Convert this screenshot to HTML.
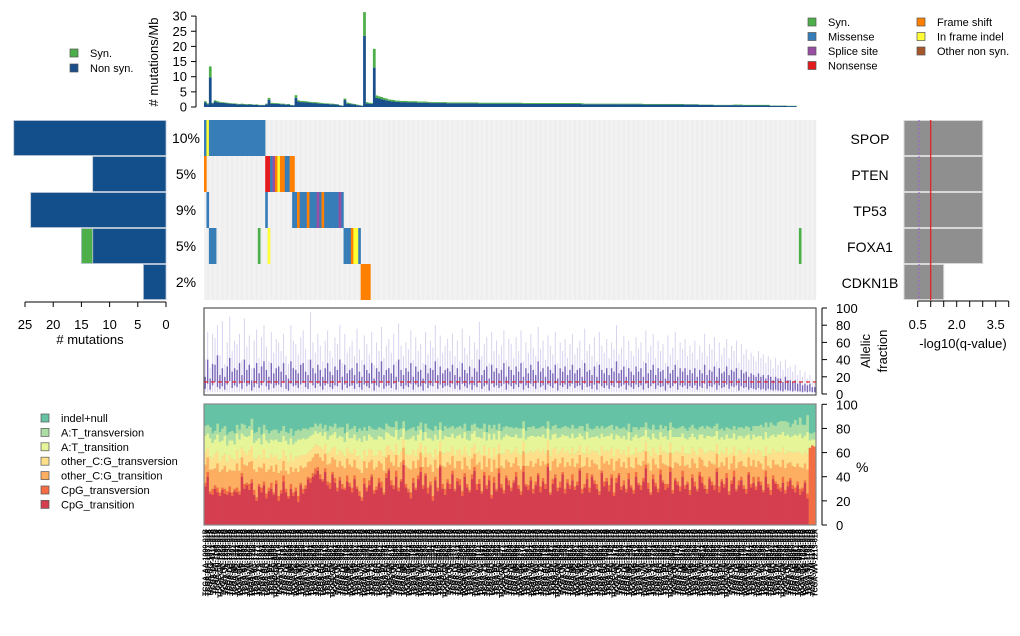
<!DOCTYPE html>
<html><head><meta charset="utf-8"><style>
html,body{margin:0;padding:0;background:#fff}
svg{display:block;font-family:"Liberation Sans",sans-serif}
</style></head><body>
<svg id="chart" width="1020" height="636" viewBox="0 0 1020 636" xmlns="http://www.w3.org/2000/svg">
<g id="top"></g><g id="grid"></g><g id="left"></g><g id="right"></g><g id="af"></g><g id="spec"></g><g id="labels"></g><g id="legends"></g>
</svg>
<script>
const genes=["SPOP","PTEN","TP53","FOXA1","CDKN1B"];
const genePct=["10%","5%","9%","5%","2%"];
const geneNonSyn=[27,13,24,13,4];
const geneSyn=[0,0,0,2,0];
const geneQ=[3.0,3.0,3.0,3.0,1.5];
const qThreshold=1.0;
const qPurple=0.55;
// [row, startCol, endCol, type]
const oncoEvents=[[0,0,0,'M'],[0,1,1,'I'],[0,2,24,'M'],
[1,0,0,'F'],[1,25,26,'N'],[1,27,27,'M'],[1,28,28,'S'],[1,29,29,'F'],[1,30,30,'I'],[1,31,32,'F'],[1,33,34,'M'],[1,35,36,'F'],
[2,1,1,'M'],[2,25,25,'M'],[2,36,56,'M'],[2,38,38,'F'],[2,42,42,'F'],[2,46,46,'S'],[2,48,48,'F'],[2,55,55,'S'],
[3,2,4,'M'],[3,22,22,'Y'],[3,26,26,'I'],[3,57,59,'M'],[3,60,60,'F'],[3,61,62,'I'],[3,63,63,'M'],[3,243,243,'Y'],
[4,64,67,'F']];
const tmbNon=[1.5,0.9,9.8,1.2,1.8,1.6,1.4,1.4,1.3,1.2,1.1,1.1,1.0,0.9,0.9,0.9,0.8,0.8,0.8,0.8,0.7,0.7,0.6,0.6,0.6,
0.9,2.4,1.1,1.1,1.0,1.0,0.9,0.9,0.8,0.8,0.6,0.5,3.0,1.8,1.6,1.6,1.5,1.5,1.4,1.3,1.3,1.2,1.1,1.1,1.0,
1.0,0.9,0.9,0.8,0.8,0.5,0.4,2.3,1.1,1.0,0.9,0.8,0.6,0.5,0.4,23.5,1.2,1.1,1.0,13.0,3.0,2.8,2.6,2.4,2.2,
2.0,1.9,1.8,1.7,1.7,1.6,1.6,1.6,1.5,1.5,1.5,1.5,1.4,1.4,1.4,1.4,1.4,1.3,1.3,1.3,1.3,1.3,1.3,1.3,1.2,
1.2,1.2,1.2,1.2,1.2,1.2,1.2,1.2,1.2,1.2,1.2,1.2,1.1,1.1,1.1,1.1,1.1,1.1,1.1,1.1,1.1,1.1,1.1,1.1,1.1,
1.1,1.1,1.1,1.1,1.1,1.0,1.0,1.0,1.0,1.0,1.0,1.0,1.0,1.0,1.0,1.0,1.0,1.0,1.0,1.0,1.0,1.0,1.0,1.0,1.0,
1.0,1.0,1.0,1.0,0.9,0.9,0.9,0.9,0.9,0.9,0.9,0.9,0.9,0.9,0.9,0.9,0.9,0.9,0.9,0.9,0.9,0.9,0.9,0.9,0.9,
0.9,0.9,0.9,0.9,0.8,0.8,0.8,0.8,0.8,0.8,0.8,0.8,0.8,0.8,0.8,0.8,0.8,0.8,0.8,0.8,0.8,0.8,0.8,0.8,0.8,
0.8,0.8,0.7,0.7,0.7,0.7,0.7,0.7,0.6,0.6,0.6,0.6,0.6,0.6,0.6,0.6,0.6,0.6,0.6,0.6,0.5,0.5,0.5,0.5,0.5,
0.5,0.5,0.5,0.5,0.5,0.5,0.4,0.4,0.4,0.4,0.4,0.4,0.4,0.3,0.3,0.3,0.3,0,0,0,0,0,0,0,0];
const tmbSyn=[0.4,0.3,3.6,0.2,0.4,0.3,0.3,0.2,0.2,0.2,0.2,0.1,0.2,0.2,0.1,0.2,0.2,0.1,0.2,0.1,0.1,0.2,0.1,0.1,0.1,
0.2,0.6,0.3,0.2,0.3,0.2,0.2,0.2,0.1,0.2,0.1,0.1,0.9,0.4,0.4,0.4,0.4,0.3,0.3,0.3,0.3,0.3,0.3,0.2,0.2,
0.2,0.2,0.2,0.2,0.1,0.1,0.1,0.5,0.4,0.3,0.2,0.2,0.2,0.1,0.1,7.8,0.4,0.3,0.3,6.2,0.8,0.7,0.7,0.6,0.6,
0.5,0.5,0.5,0.4,0.4,0.4,0.4,0.4,0.4,0.4,0.4,0.4,0.4,0.4,0.4,0.4,0.3,0.3,0.3,0.3,0.3,0.3,0.3,0.3,0.3,
0.3,0.3,0.3,0.3,0.3,0.3,0.3,0.3,0.3,0.3,0.3,0.3,0.3,0.3,0.3,0.3,0.3,0.3,0.3,0.3,0.3,0.3,0.3,0.3,0.3,
0.3,0.3,0.3,0.3,0.3,0.3,0.3,0.3,0.3,0.3,0.3,0.3,0.3,0.3,0.3,0.3,0.3,0.3,0.3,0.3,0.3,0.3,0.3,0.3,0.3,
0.3,0.3,0.3,0.3,0.3,0.2,0.2,0.2,0.2,0.2,0.2,0.2,0.2,0.2,0.2,0.2,0.2,0.2,0.2,0.2,0.2,0.2,0.2,0.2,0.2,
0.2,0.2,0.2,0.2,0.2,0.2,0.2,0.2,0.2,0.2,0.2,0.2,0.2,0.2,0.2,0.2,0.2,0.2,0.2,0.2,0.2,0.1,0.1,0.1,0.1,
0.1,0.1,0.1,0.1,0.1,0.1,0.1,0.1,0.1,0.1,0.1,0.1,0.1,0.1,0.1,0.1,0.2,0.2,0.2,0.2,0.2,0.2,0.2,0.2,0.2,
0.2,0.2,0.2,0.2,0.2,0.2,0.1,0.1,0.1,0.1,0.1,0.1,0.1,0.1,0.1,0.1,0.1,0,0,0,0,0,0,0,0];
const afMax=[40,72,30,70,65,80,45,85,35,60,90,50,62,58,70,40,88,55,68,30,62,75,42,66,80,
55,38,72,48,64,60,50,70,44,35,80,62,58,46,66,74,52,40,95,60,48,70,56,38,62,
74,50,42,66,58,80,36,70,48,55,62,44,76,52,40,68,58,46,72,34,60,50,78,42,56,
64,48,70,38,82,56,44,60,52,74,40,66,50,58,36,72,46,62,54,80,42,68,48,56,64,
50,70,44,62,38,76,54,46,68,40,60,52,84,44,58,66,36,72,50,62,46,56,74,40,64,
58,42,66,50,74,38,60,48,70,54,44,78,52,62,40,68,56,46,72,36,60,50,64,42,58,
70,46,54,62,40,76,50,58,44,66,38,72,56,48,64,42,60,52,80,46,54,68,40,62,50,
44,66,52,60,38,74,48,56,70,42,62,50,58,36,68,46,54,72,40,60,52,64,44,56,48,
62,40,56,48,70,44,58,52,66,38,60,46,54,64,42,56,50,62,36,58,46,52,40,48,44,
38,50,42,46,36,44,40,30,42,34,38,28,40,30,32,26,34,22,28,20,26,18,22,16,14];
const afHi=[20,40,18,35,34,45,22,30,20,32,42,26,30,28,36,22,40,28,34,16,30,36,24,32,38,
28,20,36,24,30,32,26,36,22,18,38,30,28,24,34,36,26,22,40,30,24,34,28,20,30,
36,26,22,32,28,40,20,34,24,28,30,22,36,26,20,34,28,24,36,18,30,26,38,22,28,
30,24,34,20,40,28,22,30,26,36,20,32,26,28,18,34,24,30,28,38,22,32,24,28,30,
26,34,22,30,20,36,28,24,32,20,30,26,40,22,28,32,18,34,26,30,24,28,36,20,32,
28,22,32,26,36,20,30,24,34,28,22,38,26,30,20,32,28,24,34,18,30,26,32,22,28,
34,24,28,30,20,36,26,28,22,32,20,34,28,24,30,22,30,26,38,24,28,32,20,30,26,
22,32,26,30,20,36,24,28,34,22,30,26,28,18,32,24,28,34,20,30,26,30,22,28,24,
30,20,28,24,34,22,28,26,32,20,30,24,26,32,22,28,26,30,18,28,24,26,20,24,22,
20,24,20,22,18,22,20,16,20,18,18,14,20,16,16,14,16,12,14,10,12,10,12,8,8];
const afLo=[6,12,5,10,14,8,6,9,5,11,15,7,10,8,12,6,13,9,11,4,8,12,7,10,14,
9,5,12,7,10,11,8,13,6,4,12,9,10,7,11,13,8,6,14,10,7,12,9,5,10,
12,8,6,10,9,14,5,11,7,9,10,6,12,8,5,11,9,7,12,4,10,8,13,6,9,
10,7,12,5,14,9,6,10,8,12,5,11,8,9,4,12,7,10,9,13,6,11,7,9,10,
8,12,6,10,5,12,9,7,11,5,10,8,14,6,9,11,4,12,8,10,7,9,12,5,11,
9,6,11,8,12,5,10,7,12,9,6,13,8,10,5,11,9,7,12,4,10,8,11,6,9,
12,7,9,10,5,12,8,9,6,11,5,12,9,7,10,6,10,8,13,7,9,11,5,10,8,
6,11,8,10,5,12,7,9,12,6,10,8,9,4,11,7,9,12,5,10,8,10,6,9,7,
10,5,9,7,12,6,9,8,11,5,10,7,8,11,6,9,8,10,4,9,7,8,5,7,6,
5,7,5,6,4,6,5,4,5,4,4,3,5,4,4,3,4,3,3,2,3,2,3,2,2];
const cpgTi=[32,40,26,25,30,27,24,29,26,25,27,24,28,27,25,40,30,33,29,35,25,20,32,27,33,
22,28,30,25,34,20,26,36,27,22,30,24,28,19,33,26,30,38,35,40,42,45,38,36,44,
33,30,42,35,28,37,30,29,36,32,27,38,30,24,20,34,28,33,40,26,29,35,31,25,39,
45,33,30,40,28,36,50,31,27,22,35,29,38,44,30,41,26,33,20,37,28,48,30,25,35,
30,42,28,36,33,24,40,31,27,38,45,29,34,26,41,30,37,22,35,28,43,31,26,39,33,
28,35,40,30,25,44,32,29,37,26,33,41,27,36,30,48,25,34,39,28,31,42,26,35,30,
37,29,33,45,26,31,38,27,40,34,30,25,43,32,36,28,39,24,35,41,29,33,27,38,31,
26,40,33,29,36,47,30,25,38,32,27,42,35,29,31,44,26,37,33,28,40,30,34,25,39,
32,28,41,35,30,26,38,33,29,44,27,36,31,39,25,34,40,28,33,37,30,26,42,31,35,
29,36,33,27,40,31,25,38,34,30,28,35,26,32,37,30,27,33,25,28,35,22,0,0,0];
const cpgTv=[3,4,2,5,3,4,3,2,4,3,5,3,2,4,3,3,4,2,5,3,4,3,2,4,3,
4,3,5,2,3,4,3,5,3,2,4,3,3,5,2,4,3,2,4,3,5,3,4,2,3,
3,5,2,4,3,3,4,2,5,3,4,3,2,4,3,5,3,4,2,3,3,4,5,2,4,
2,4,3,5,3,2,4,3,3,5,4,2,3,4,3,2,5,3,4,3,3,2,4,5,3,
4,3,2,3,5,4,3,3,2,4,3,5,4,2,3,3,4,3,5,2,4,3,3,2,4,
3,2,4,3,3,5,2,4,3,4,3,2,5,3,4,3,2,4,3,3,5,2,4,3,3,
5,3,3,2,4,3,5,4,2,3,4,3,2,4,3,5,3,3,4,2,3,4,3,5,2,
3,4,2,4,3,3,5,2,4,3,3,4,2,5,3,4,3,2,3,4,5,3,2,4,3,
4,2,3,5,3,4,2,3,4,3,5,2,3,4,3,3,5,2,4,3,3,4,2,3,5,
3,4,3,2,5,3,4,3,2,4,3,5,3,4,2,3,4,3,5,3,2,4,64,66,65];
const cgTi=[15,12,18,16,14,20,17,15,19,16,14,18,15,20,17,13,16,14,18,15,17,21,14,16,15,
18,15,14,17,13,19,16,12,15,18,14,17,16,20,14,17,15,12,14,13,12,11,14,15,12,
14,16,12,15,17,13,15,16,14,15,17,13,15,18,20,14,16,15,12,17,16,14,15,18,13,
11,15,16,13,17,14,10,15,17,19,14,16,13,12,15,13,17,14,20,14,16,11,15,18,14,
16,12,17,14,15,18,13,15,17,13,11,16,14,18,13,15,14,19,14,17,12,15,18,13,15,
17,14,12,16,18,12,15,16,13,18,15,12,17,14,16,11,18,15,13,17,15,12,18,14,16,
13,16,15,11,18,15,13,17,12,14,16,18,12,15,14,17,13,18,14,12,16,15,17,13,15,
18,12,15,16,14,11,16,18,13,15,17,12,14,16,15,12,18,13,15,17,12,16,14,18,13,
15,17,12,14,16,18,13,15,17,12,16,14,15,13,18,14,12,17,15,13,16,18,12,15,14,
16,13,15,17,12,15,18,13,14,16,17,14,18,15,13,16,17,15,18,16,14,20,0,0,0];
const cgTv=[10,8,11,9,12,10,9,11,10,8,12,10,9,11,10,8,11,9,10,12,9,11,10,8,12,
11,9,10,12,8,11,10,9,12,10,11,9,10,12,9,11,10,8,9,8,8,7,9,10,8,
9,10,8,11,10,9,11,10,9,10,11,9,10,12,11,9,10,11,8,11,10,9,10,12,9,
8,10,11,9,10,9,7,10,11,12,9,10,9,8,10,9,11,10,12,9,11,8,10,12,9,
10,8,11,9,10,12,9,10,11,9,8,10,9,12,9,10,9,12,10,11,8,10,12,9,10,
11,10,8,10,12,8,10,11,9,12,10,8,11,10,9,8,12,10,9,11,10,8,12,10,10,
9,11,10,8,12,10,9,11,8,10,11,12,8,10,9,11,9,12,10,8,11,10,11,9,10,
12,8,10,11,9,8,10,12,9,10,11,8,10,11,10,8,12,9,10,11,8,10,9,12,9,
10,11,8,9,10,12,9,10,11,8,10,9,10,8,12,9,8,11,10,9,10,12,8,10,9,
11,9,10,11,8,10,12,9,10,11,12,10,12,10,9,11,12,10,12,11,10,13,0,0,0];
const atTi=[14,12,15,13,12,14,16,13,15,14,12,15,13,14,16,12,13,15,12,14,13,15,14,12,13,
15,13,12,14,13,15,14,12,13,15,13,14,12,15,13,14,13,12,12,11,11,10,12,11,10,
12,13,11,12,14,12,13,12,13,12,13,12,13,14,15,12,13,12,11,14,13,12,12,14,12,
10,12,13,12,13,12,9,12,13,14,12,13,12,11,12,12,13,12,14,12,13,10,12,14,12,
13,11,14,12,12,14,12,12,13,12,11,13,12,14,11,12,12,15,12,13,11,12,14,12,12,
14,12,11,13,14,11,12,13,12,14,12,11,13,12,13,10,14,12,12,13,12,11,14,12,13,
12,13,12,10,14,12,12,13,11,12,13,14,11,12,12,13,12,14,12,11,13,12,13,12,12,
14,11,12,13,12,10,12,14,12,12,13,11,12,13,12,11,14,12,12,13,11,13,12,14,12,
12,13,11,12,13,14,12,12,13,11,13,12,12,11,14,12,11,13,12,12,13,14,11,12,12,
14,12,13,14,12,13,15,12,13,14,15,13,15,14,12,14,15,13,16,14,13,18,6,5,6];
const atTv=[8,7,9,8,7,9,8,10,8,9,7,8,9,7,8,8,9,7,8,9,8,7,9,8,7,
9,8,7,9,8,7,9,8,7,9,8,7,9,8,7,8,9,7,7,6,6,6,7,6,6,
7,8,6,7,8,7,8,7,7,7,8,7,7,8,9,7,8,7,7,8,8,7,7,8,7,
6,7,8,7,8,7,6,7,8,8,7,8,7,6,7,7,8,7,8,7,8,6,7,8,7,
8,6,8,7,7,8,7,7,8,7,6,8,7,8,7,7,7,9,7,8,6,7,8,7,7,
8,7,6,8,8,6,7,8,7,8,7,6,8,7,8,6,8,7,7,8,7,6,8,7,8,
7,8,7,6,8,7,7,8,6,7,8,8,6,7,7,8,7,8,7,6,8,7,8,7,7,
8,6,7,8,7,6,7,8,7,7,8,6,7,8,7,6,8,7,7,8,6,8,7,8,7,
7,8,6,7,8,8,7,7,8,6,8,7,7,6,8,7,6,8,7,7,8,8,6,7,7,
9,8,9,10,8,9,11,8,9,10,11,9,12,10,8,10,12,9,13,11,9,14,6,5,6];

const NS="http://www.w3.org/2000/svg";
const N=250, X0=204, X1=816, CW=(X1-X0)/N;
function el(tag,attrs,parent,text){const e=document.createElementNS(NS,tag);for(const k in attrs)e.setAttribute(k,attrs[k]);if(text!==undefined)e.textContent=text;parent.appendChild(e);return e;}
const xCol=i=>X0+i*CW;
const typeColor={M:"#377eb8",Y:"#4daf4a",S:"#984ea3",N:"#e41a1c",F:"#ff7f00",I:"#ffff33",O:"#a65628"};

// top TMB chart
const gTop=document.getElementById('top');
const yT=v=>107-v*3.03;
el('line',{x1:196,x2:196,y1:yT(0),y2:yT(30),stroke:"#000"},gTop);
[0,5,10,15,20,25,30].forEach(t=>{el('line',{x1:191,x2:196,y1:yT(t),y2:yT(t),stroke:"#000"},gTop);
 const tx=el('text',{x:187,y:yT(t)+4.5,"text-anchor":"end","font-size":13},gTop,String(t));
 });
const yl=el('text',{x:0,y:0,transform:"translate(158,62) rotate(-90)","text-anchor":"middle","font-size":13},gTop,"# mutations/Mb");

for(let i=0;i<N;i++){
 const a=tmbNon[i]||0,b=tmbSyn[i]||0;
 if(a>0){const r=el('rect',{x:xCol(i),y:yT(a),width:CW+0.3,height:yT(0)-yT(a),fill:"#1a4f8c"},gTop);
  }
 if(b>0){const r=el('rect',{x:xCol(i),y:yT(a+b),width:CW+0.3,height:yT(a)-yT(a+b),fill:"#4daf4a"},gTop);
  }
}

// oncoprint grid
const gG=document.getElementById('grid');
const RT=120,RH=36;
for(let r=0;r<5;r++)for(let i=0;i<N;i++){
 el('rect',{x:xCol(i),y:RT+r*RH,width:CW+0.2,height:RH,fill:(i%2?"#eeeeee":"#f2f2f2")},gG);
}
oncoEvents.forEach(ev=>{const [r,s,e,t]=ev;
 const rc=el('rect',{x:xCol(s),y:RT+r*RH,width:(e-s+1)*CW+0.2,height:RH,fill:typeColor[t]},gG);
 });
genes.forEach((g,r)=>{
 const p=el('text',{x:186,y:RT+r*RH+23,"text-anchor":"middle","font-size":14},gG,genePct[r]);
 
 const n=el('text',{x:870,y:RT+r*RH+24,"text-anchor":"middle","font-size":14},gG,g);
 
});

// left bar chart
const gL=document.getElementById('left');
const xL=v=>166-v*5.64;
genes.forEach((g,r)=>{
 const y=RT+r*RH+0.5,h=RH-1;
 const b=el('rect',{x:xL(geneNonSyn[r]),y:y,width:166-xL(geneNonSyn[r]),height:h,fill:"#134f8a",stroke:"#b8c4d4","stroke-width":0.8},gL);
 
 if(geneSyn[r]>0){const s=el('rect',{x:xL(geneNonSyn[r]+geneSyn[r]),y:y,width:xL(geneNonSyn[r])-xL(geneNonSyn[r]+geneSyn[r]),height:h,fill:"#4daf4a",stroke:"#b8c4d4","stroke-width":0.8},gL);
  }
});
el('line',{x1:xL(25),x2:xL(0),y1:302,y2:302,stroke:"#000"},gL);
[0,5,10,15,20,25].forEach(t=>{el('line',{x1:xL(t),x2:xL(t),y1:302,y2:307,stroke:"#000"},gL);
 const tx=el('text',{x:xL(t),y:329,"text-anchor":"middle","font-size":13},gL,String(t));
 });
const lt=el('text',{x:90,y:344,"text-anchor":"middle","font-size":13},gL,"# mutations");


// right q-value
const gR=document.getElementById('right');
const xQ=v=>904.7+v*26;
genes.forEach((g,r)=>{
 const b=el('rect',{x:904,y:RT+r*RH+0.5,width:xQ(geneQ[r])-904,height:RH-1,fill:"#8f8f8f",stroke:"#d8d8d8","stroke-width":1},gR);
 });
el('line',{x1:xQ(qPurple),x2:xQ(qPurple),y1:RT,y2:RT+5*RH,stroke:"#9a6bc8","stroke-width":1.2,"stroke-dasharray":"2,2"},gR);
el('line',{x1:xQ(qThreshold),x2:xQ(qThreshold),y1:RT,y2:RT+5*RH,stroke:"#e41a1c","stroke-width":1.2},gR);
el('line',{x1:xQ(0.5),x2:xQ(4.0),y1:301,y2:301,stroke:"#000"},gR);
[0.5,1,1.5,2,2.5,3,3.5,4].forEach(t=>el('line',{x1:xQ(t),x2:xQ(t),y1:301,y2:307,stroke:"#000"},gR));
[0.5,2.0,3.5].forEach(t=>{const tx=el('text',{x:xQ(t),y:329,"text-anchor":"middle","font-size":13},gR,t.toFixed(1));
 });
const qt=el('text',{x:963,y:348,"text-anchor":"middle","font-size":13},gR,"-log10(q-value)");


// allelic fraction
const gA=document.getElementById('af');
const yA=v=>394-v*0.86;
const fr=el('rect',{x:X0,y:308,width:X1-X0,height:87,fill:"#fff",stroke:"#555","stroke-width":1.2},gA);

for(let i=0;i<N;i++){const cx=xCol(i)+CW/2;
 el('line',{x1:cx,x2:cx,y1:yA(2),y2:yA(afMax[i]),stroke:"#d9d3ee","stroke-width":1},gA);
 const m=el('line',{x1:cx,x2:cx,y1:yA(afLo[i]),y2:yA(afHi[i]),stroke:"#7a66b8","stroke-width":1.4},gA);
 }
el('line',{x1:X0,x2:X1,y1:yA(14),y2:yA(14),stroke:"#e41a1c","stroke-width":1.2,"stroke-dasharray":"4,3"},gA);
el('line',{x1:822,x2:822,y1:yA(0),y2:yA(100),stroke:"#000"},gA);
[0,20,40,60,80,100].forEach(t=>{el('line',{x1:822,x2:827,y1:yA(t),y2:yA(t),stroke:"#000"},gA);
 const tx=el('text',{x:836,y:yA(t)+5,"font-size":13},gA,String(t));
 });
const at1=el('text',{x:0,y:0,transform:"translate(870,351) rotate(-90)","text-anchor":"middle","font-size":13},gA,"Allelic");

const at2=el('text',{x:0,y:0,transform:"translate(887,351) rotate(-90)","text-anchor":"middle","font-size":13},gA,"fraction");


// spectrum
const gS=document.getElementById('spec');
const yS=v=>525-v*1.207;
const specCols=["#d53e4f","#f46d43","#fdae61","#fee08b","#e6f598","#abdda4","#66c2a5"];
el('rect',{x:X0,y:404,width:X1-X0,height:121,fill:"#66c2a5"},gS);
const specSeries=[cpgTi,cpgTv,cgTi,cgTv,atTi,atTv];
for(let i=0;i<N;i++){let acc=0;
 specSeries.forEach((s,k)=>{const v=s[i]||0;if(v>0){
  const r=el('rect',{x:xCol(i),y:yS(acc+v),width:CW+0.3,height:yS(acc)-yS(acc+v),fill:specCols[k]},gS);
  }acc+=v;});}
el('rect',{x:X0,y:404,width:X1-X0,height:121,fill:"none",stroke:"#888","stroke-width":1.2},gS);
el('line',{x1:822,x2:822,y1:yS(0),y2:yS(100),stroke:"#000"},gS);
[0,20,40,60,80,100].forEach(t=>{el('line',{x1:822,x2:827,y1:yS(t),y2:yS(t),stroke:"#000"},gS);
 const tx=el('text',{x:836,y:yS(t)+5,"font-size":13},gS,String(t));
 });
const pt=el('text',{x:856,y:472,"font-size":14},gS,"%");


// sample labels
const gLb=document.getElementById('labels');
const codes="ABCDEFGHJKLMNPQRSTVWXYZ";
for(let i=0;i<N;i++){const cx=xCol(i)+CW/2+2.5;
 const nm="TCGA-"+codes[i%23]+codes[(i*7)%23]+"-"+String(1000+(i*37)%9000).slice(0,4)+"-"+(i%4?"01A":"01B");
 const t=el('text',{x:0,y:0,transform:`translate(${cx.toFixed(2)},529) rotate(-90)`,"text-anchor":"end","font-size":7.2,"font-weight":"bold",fill:"#000"},gLb,nm);
 }

// legends
const gLg=document.getElementById('legends');
function leg(x,y,col,txt,name){const r=el('rect',{x:x,y:y-8,width:8,height:8,fill:col,stroke:"#555","stroke-width":0.7},gLg);
 
 const t=el('text',{x:x+20,y:y,"font-size":11},gLg,txt);
 }
leg(70,57,"#4daf4a","Syn.","tmb-syn");
leg(70,72,"#1a4f8c","Non syn.","tmb-nonsyn");
const lg1=[["#4daf4a","Syn."],["#377eb8","Missense"],["#984ea3","Splice site"],["#e41a1c","Nonsense"]];
lg1.forEach((d,k)=>leg(808,26+k*14.5,d[0],d[1],"variant-type"));
const lg2=[["#ff7f00","Frame shift"],["#ffff33","In frame indel"],["#a65628","Other non syn."]];
lg2.forEach((d,k)=>leg(917,26+k*14.5,d[0],d[1],"variant-type"));
const lg3=["indel+null","A:T_transversion","A:T_transition","other_C:G_transversion","other_C:G_transition","CpG_transversion","CpG_transition"];
lg3.forEach((t,k)=>leg(41,422+k*14.4,specCols[6-k],t,"spectrum"));
</script>
</body></html>
